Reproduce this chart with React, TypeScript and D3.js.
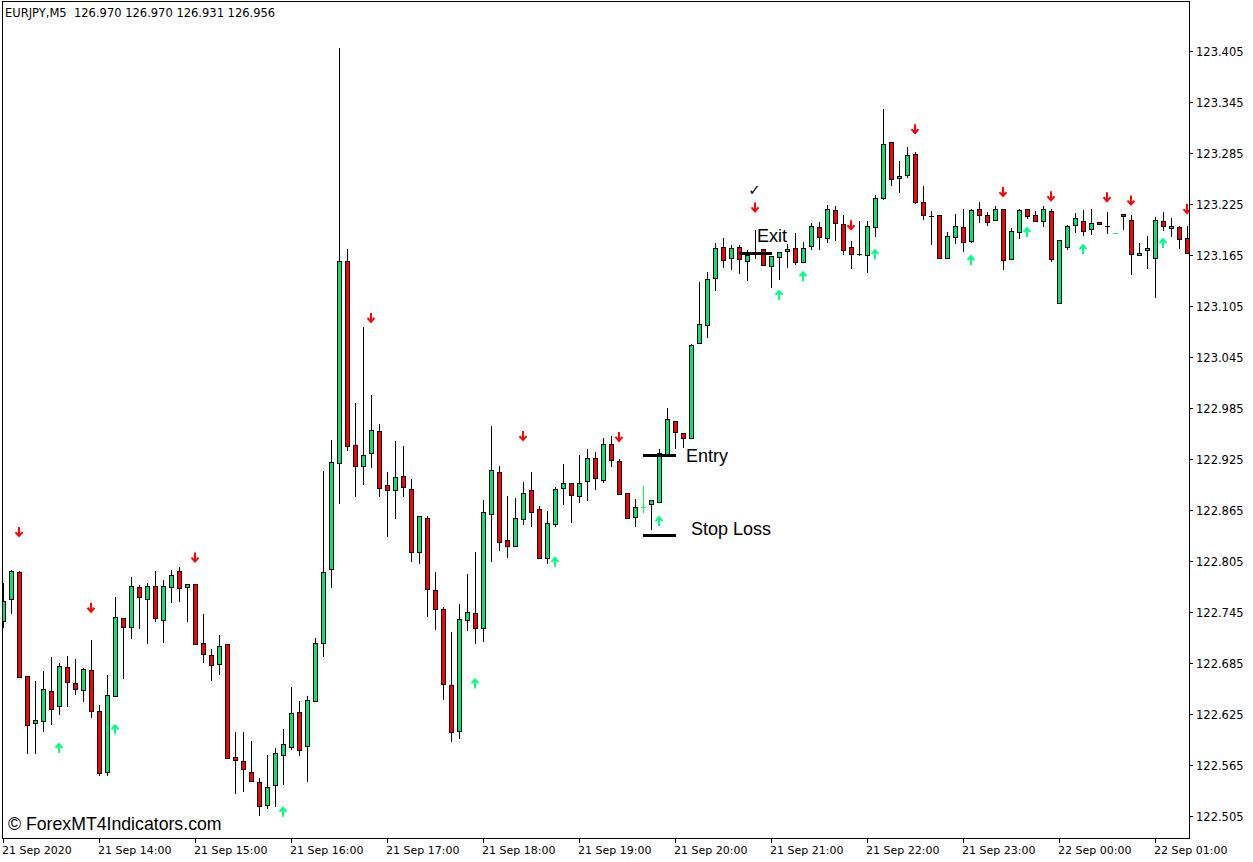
import React from 'react';
import * as d3 from 'd3';

// ---- data (EURJPY M5) ----
const openP = [
  122.734, 122.760, 122.792, 122.670, 122.614, 122.617, 122.652, 122.634, 122.680, 122.661,
  122.653, 122.677, 122.629, 122.557, 122.646, 122.738, 122.727, 122.774, 122.760, 122.776,
  122.736, 122.774, 122.793, 122.774, 122.778, 122.709, 122.694, 122.684, 122.707, 122.574,
  122.570, 122.557, 122.545, 122.518, 122.541, 122.577, 122.586, 122.627, 122.587, 122.640,
  122.709, 122.796, 122.920, 123.158, 122.941, 122.917, 122.932, 122.958, 122.894, 122.889,
  122.905, 122.890, 122.816, 122.856, 122.771, 122.749, 122.659, 122.605, 122.736, 122.744,
  122.726, 122.860, 122.910, 122.830, 122.823, 122.854, 122.889, 122.866, 122.809, 122.849,
  122.891, 122.897, 122.881, 122.899, 122.926, 122.900, 122.943, 122.923, 122.885, 122.857,
  122.869, 122.872, 122.874, 122.930, 122.970, 122.956, 122.950, 123.061, 123.083, 123.138,
  123.174, 123.161, 123.174, 123.158, 123.166, 123.172, 123.152, 123.163, 123.170, 123.173,
  123.157, 123.176, 123.198, 123.185, 123.218, 123.201, 123.174, 123.166, 123.165, 123.198,
  123.232, 123.298, 123.256, 123.259, 123.284, 123.227, 123.211, 123.212, 123.161, 123.186,
  123.198, 123.181, 123.219, 123.212, 123.206, 123.219, 123.160, 123.192, 123.219, 123.212,
  123.205, 123.217, 123.109, 123.174, 123.200, 123.205, 123.196, 123.204, 123.199, 123.191,
  123.213, 123.206, 123.165, 123.171, 123.161, 123.205, 123.197, 123.198, 123.185,
];
const highP = [
  122.779, 122.794, 122.793, 122.670, 122.664, 122.676, 122.692, 122.685, 122.693, 122.690,
  122.679, 122.712, 122.636, 122.671, 122.763, 122.738, 122.786, 122.777, 122.779, 122.793,
  122.783, 122.794, 122.798, 122.778, 122.778, 122.743, 122.701, 122.718, 122.707, 122.604,
  122.604, 122.593, 122.550, 122.577, 122.585, 122.607, 122.657, 122.640, 122.646, 122.714,
  122.911, 122.947, 123.409, 123.172, 122.991, 123.080, 123.000, 122.966, 122.910, 122.946,
  122.940, 122.901, 122.858, 122.858, 122.792, 122.751, 122.721, 122.754, 122.790, 122.816,
  122.877, 122.964, 122.917, 122.881, 122.879, 122.898, 122.910, 122.870, 122.864, 122.892,
  122.919, 122.897, 122.930, 122.937, 122.933, 122.950, 122.952, 122.925, 122.885, 122.878,
  122.893, 122.877, 122.937, 122.985, 122.970, 122.956, 123.060, 123.133, 123.145, 123.179,
  123.185, 123.177, 123.177, 123.171, 123.194, 123.172, 123.164, 123.169, 123.178, 123.191,
  123.180, 123.203, 123.204, 123.224, 123.223, 123.212, 123.181, 123.205, 123.205, 123.236,
  123.337, 123.298, 123.276, 123.292, 123.286, 123.246, 123.217, 123.212, 123.192, 123.213,
  123.219, 123.219, 123.227, 123.216, 123.223, 123.219, 123.197, 123.219, 123.219, 123.217,
  123.223, 123.219, 123.183, 123.200, 123.214, 123.218, 123.219, 123.204, 123.216, 123.191,
  123.213, 123.212, 123.179, 123.187, 123.210, 123.216, 123.209, 123.199, 123.199,
];
const lowP = [
  122.727, 122.744, 122.669, 122.579, 122.579, 122.605, 122.613, 122.625, 122.634, 122.649,
  122.640, 122.621, 122.553, 122.553, 122.646, 122.667, 122.714, 122.726, 122.709, 122.734,
  122.710, 122.757, 122.758, 122.734, 122.707, 122.686, 122.665, 122.672, 122.573, 122.532,
  122.534, 122.546, 122.506, 122.514, 122.517, 122.543, 122.584, 122.577, 122.546, 122.640,
  122.693, 122.774, 122.873, 122.936, 122.881, 122.896, 122.916, 122.881, 122.834, 122.856,
  122.881, 122.805, 122.803, 122.740, 122.725, 122.643, 122.593, 122.597, 122.724, 122.709,
  122.711, 122.805, 122.818, 122.810, 122.823, 122.849, 122.846, 122.809, 122.803, 122.846,
  122.872, 122.851, 122.874, 122.877, 122.890, 122.898, 122.917, 122.884, 122.856, 122.846,
  122.863, 122.843, 122.874, 122.930, 122.938, 122.939, 122.950, 123.061, 123.069, 123.124,
  123.151, 123.149, 123.144, 123.136, 123.161, 123.153, 123.127, 123.137, 123.151, 123.154,
  123.157, 123.172, 123.172, 123.180, 123.183, 123.166, 123.150, 123.165, 123.145, 123.187,
  123.231, 123.247, 123.239, 123.257, 123.226, 123.207, 123.178, 123.161, 123.161, 123.179,
  123.170, 123.180, 123.204, 123.200, 123.206, 123.149, 123.160, 123.185, 123.209, 123.205,
  123.199, 123.158, 123.109, 123.172, 123.192, 123.189, 123.190, 123.201, 123.191, 123.191,
  123.196, 123.143, 123.165, 123.150, 123.116, 123.194, 123.187, 123.173, 123.167,
];
const closeP = [
  122.758, 122.793, 122.669, 122.612, 122.618, 122.654, 122.631, 122.681, 122.663, 122.654,
  122.678, 122.629, 122.556, 122.647, 122.739, 122.727, 122.776, 122.763, 122.776, 122.738,
  122.776, 122.789, 122.773, 122.778, 122.707, 122.696, 122.683, 122.705, 122.573, 122.571,
  122.560, 122.546, 122.517, 122.539, 122.579, 122.590, 122.626, 122.583, 122.641, 122.709,
  122.792, 122.921, 123.158, 122.940, 122.917, 122.930, 122.959, 122.891, 122.889, 122.904,
  122.892, 122.816, 122.858, 122.772, 122.749, 122.660, 122.604, 122.737, 122.745, 122.726,
  122.863, 122.912, 122.827, 122.823, 122.856, 122.885, 122.863, 122.809, 122.850, 122.890,
  122.897, 122.883, 122.897, 122.926, 122.903, 122.943, 122.924, 122.884, 122.856, 122.869,
  122.869, 122.877, 122.932, 122.972, 122.957, 122.950, 123.059, 123.084, 123.137, 123.173,
  123.159, 123.173, 123.160, 123.165, 123.166, 123.153, 123.164, 123.169, 123.172, 123.157,
  123.173, 123.199, 123.186, 123.219, 123.203, 123.171, 123.166, 123.166, 123.199, 123.232,
  123.296, 123.254, 123.258, 123.283, 123.227, 123.212, 123.211, 123.161, 123.187, 123.199,
  123.180, 123.218, 123.212, 123.204, 123.219, 123.159, 123.193, 123.218, 123.211, 123.205,
  123.219, 123.160, 123.183, 123.199, 123.209, 123.193, 123.203, 123.201, 123.199, 123.191,
  123.211, 123.166, 123.167, 123.173, 123.206, 123.199, 123.199, 123.184, 123.167,
];
const limeDojiBars = [80, 139];

const timeLabels = [
  '21 Sep 2020', '21 Sep 14:00', '21 Sep 15:00', '21 Sep 16:00', '21 Sep 17:00',
  '21 Sep 18:00', '21 Sep 19:00', '21 Sep 20:00', '21 Sep 21:00', '21 Sep 22:00',
  '21 Sep 23:00', '22 Sep 00:00', '22 Sep 01:00',
];
const timeLabelBars = [0, 12, 24, 36, 48, 60, 72, 84, 96, 108, 120, 132, 144];
const priceTicks = [
  123.405, 123.345, 123.285, 123.225, 123.165, 123.105, 123.045, 122.985,
  122.925, 122.865, 122.805, 122.745, 122.685, 122.625, 122.565, 122.505,
];

const sellArrowBars = [2, 11, 24, 46, 65, 77, 94, 106, 114, 125, 131, 138, 141, 148];
const sellArrowPrices = [122.839, 122.750, 122.809, 123.091, 122.952, 122.951, 123.221, 123.200, 123.313, 123.239, 123.234, 123.233, 123.229, 123.219];
const buyArrowBars = [7, 14, 35, 59, 69, 82, 97, 100, 109, 121, 128, 135, 145];
const buyArrowPrices = [122.585, 122.607, 122.510, 122.661, 122.804, 122.852, 123.118, 123.140, 123.166, 123.159, 123.192, 123.172, 123.179];

const levelNames = ['Entry', 'Stop Loss', 'Exit'];
const levelPrices = [122.930, 122.836, 123.167];
const levelStartBars = [80, 80, 92];
const levelEndBars = [84, 84, 96];
const checkBar = 94;
const checkPrice = 123.241;

const header = 'EURJPY,M5  126.970 126.970 126.931 126.956';
const watermark = '\u00A9 ForexMT4Indicators.com';

// ---- layout ----
const W = 1253, H = 862;
const L = 2, T = 1, R = 1189, B = 838;
const BULL = '#00E676';
const BEAR = '#FF0000';
const ARROW_UP = '#00FF80';
const AXIS_FONT = '"DejaVu Sans", Verdana, sans-serif';
const LABEL_FONT = '"Liberation Sans", Arial, sans-serif';

export default function App() {
  const n = openP.length;
  const x = d3.scaleLinear().domain([0, n - 1]).range([3.5, 3.5 + 8 * (n - 1)]);
  const y = d3.scaleLinear().domain([122.505, 123.405]).range([816, 51]);
  const py = (v: number) => Math.round(y(v));

  const candles = d3.range(n).map((i) => {
    const cx = x(i);
    const o = openP[i], c = closeP[i], h = highP[i], l = lowP[i];
    const lime = limeDojiBars.includes(i);
    const yh = py(h), yl = py(l);
    const yo = py(o), yc = py(c);
    const top = Math.min(yo, yc), bot = Math.max(yo, yc);
    const wickColor = lime ? '#00FF40' : '#000';
    return (
      <g key={i}>
        {yl > yh && (
          <line x1={cx} x2={cx} y1={yh} y2={yl + 1} stroke={wickColor} strokeWidth={1} />
        )}
        {top === bot ? (
          <line x1={cx - 2.5} x2={cx + 2.5} y1={top + 0.5} y2={top + 0.5} stroke={wickColor} strokeWidth={1} />
        ) : (
          <rect
            x={cx - 2}
            y={top + 0.5}
            width={4}
            height={bot - top}
            fill={c > o ? BULL : BEAR}
            stroke="#000"
            strokeWidth={1}
          />
        )}
      </g>
    );
  });

  const downArrow = (cx: number, cy: number, k: string) => (
    <g key={k} stroke={BEAR} strokeWidth={2} fill="none" strokeLinecap="butt">
      <line x1={cx} x2={cx} y1={cy - 5} y2={cy + 3} />
      <polyline points={`${cx - 3.5},${cy} ${cx},${cy + 4} ${cx + 3.5},${cy}`} />
    </g>
  );
  const upArrow = (cx: number, cy: number, k: string) => (
    <g key={k} stroke={ARROW_UP} strokeWidth={2} fill="none" strokeLinecap="butt">
      <line x1={cx} x2={cx} y1={cy + 5} y2={cy - 3} />
      <polyline points={`${cx - 3.5},${cy} ${cx},${cy - 4} ${cx + 3.5},${cy}`} />
    </g>
  );

  const labelDx = [10.5, 15.5, -14.5];
  const labelDy = [7, 0, -11];

  return (
    <svg
      width={W}
      height={H}
      style={{ position: 'fixed', left: 0, top: 0, background: '#fff' }}
    >
      <rect x={0} y={0} width={W} height={H} fill="#fff" />
      <defs>
        <clipPath id="plot">
          <rect x={L + 1} y={T + 1} width={R - L - 1} height={B - T - 1} />
        </clipPath>
      </defs>

      <g clipPath="url(#plot)">
        {candles}
        {sellArrowBars.map((b, i) => downArrow(x(b) - 0.5, y(sellArrowPrices[i]), 's' + i))}
        {buyArrowBars.map((b, i) => upArrow(x(b) - 0.5, y(buyArrowPrices[i]), 'b' + i))}
        {levelNames.map((name, i) => (
          <g key={name}>
            <line
              x1={x(levelStartBars[i]) - 0.5}
              x2={x(levelEndBars[i]) + 0.5}
              y1={py(levelPrices[i]) + 0.5}
              y2={py(levelPrices[i]) + 0.5}
              stroke="#000"
              strokeWidth={3}
            />
            <text
              x={x(levelEndBars[i]) + labelDx[i]}
              y={py(levelPrices[i]) + labelDy[i]}
              fontFamily={LABEL_FONT}
              fontSize={18}
              fill="#000"
            >
              {name}
            </text>
          </g>
        ))}
        <text
          x={x(checkBar) - 1}
          y={y(checkPrice) + 5}
          fontFamily={AXIS_FONT}
          fontSize={15}
          textAnchor="middle"
          fill="#000"
        >
          {'\u2713'}
        </text>
      </g>

      {/* frame */}
      <rect x={L + 0.5} y={T + 0.5} width={R - L} height={B - T} fill="none" stroke="#000" strokeWidth={1} />

      {/* header */}
      <text x={5} y={17} fontFamily={AXIS_FONT} fontSize={11.5} fill="#000" style={{ whiteSpace: 'pre' }}>
        {header}
      </text>

      {/* price axis */}
      {priceTicks.map((p) => (
        <g key={p}>
          <line x1={R} x2={R + 4} y1={py(p) + 0.5} y2={py(p) + 0.5} stroke="#000" />
          <text x={R + 7} y={py(p) + 4.5} fontFamily={AXIS_FONT} fontSize={11.5} fill="#000">
            {p.toFixed(3)}
          </text>
        </g>
      ))}

      {/* time axis */}
      {timeLabelBars.map((b, i) => (
        <g key={b}>
          <line x1={x(b)} x2={x(b)} y1={B} y2={B + 5} stroke="#000" />
          <text x={x(b) - 1.5} y={854} fontFamily={AXIS_FONT} fontSize={11} fill="#000">
            {timeLabels[i]}
          </text>
        </g>
      ))}

      {/* watermark */}
      <text x={8} y={830} fontFamily={LABEL_FONT} fontSize={17.7} fill="#000">
        {watermark}
      </text>
    </svg>
  );
}
